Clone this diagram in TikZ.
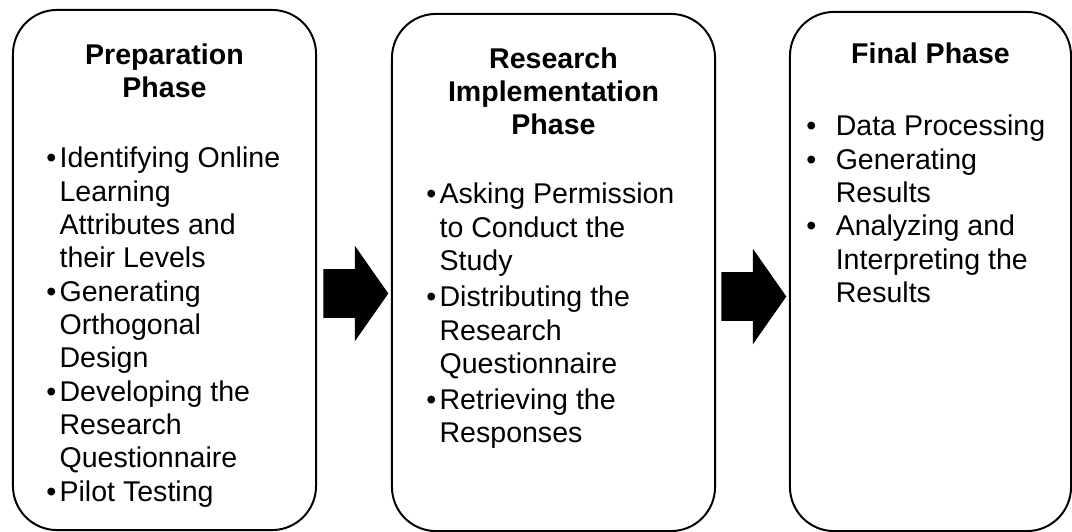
\documentclass[tikz,border=0pt]{standalone}
\usepackage{fontspec}
\setmainfont{Liberation Sans}
\usetikzlibrary{positioning, shapes.arrows}
\newcommand{\phasebullet}[1][9.5pt]{\makebox[#1][l]{\textbullet}}
\newcommand{\phaseindent}[1][9.5pt]{\hspace*{#1}}
\tikzset{
	phasebox/.style={draw, line width=1.4pt, rounded corners=1.1cm, inner sep=0pt},
	phasetitle/.style={font=\fontsize{20.3}{23.7}\selectfont\bfseries, align=center, inner sep=0pt},
	phaselist/.style={font=\fontsize{20.3}{23.7}\selectfont, align=left, inner sep=0pt},
	blockarrow/.style={single arrow, fill=black, inner sep=0pt, inner ysep=0.6cm,
		minimum height=1.625cm, single arrow head extend=0.5875cm,
		single arrow tip angle=110, single arrow head indent=0pt, anchor=tail}
}

\begin{document}
\begin{tikzpicture}[x=0.025cm, y=-0.025cm]
	\useasboundingbox (0,0) rectangle (1072,532);
	
	\node[phasebox, minimum width=7.575cm, minimum height=13cm] (prep) at (164.5,270) {};
	\node[phasebox, minimum width=8.075cm, minimum height=12.925cm] (impl) at (553.5,272.5) {};
	\node[phasebox, minimum width=7.025cm, minimum height=12.975cm] (final) at (930.5,271.5) {};
	
	\node[phasetitle, below=0.86cm of prep.north] (preptitle) {Preparation\\Phase};
	\node[phasetitle, below=0.86cm of impl.north] (impltitle) {Research\\Implementation\\Phase};
	\node[phasetitle, below=0.79cm of final.north] (finaltitle) {Final Phase};
	
	\node[phaselist, below right=3.45cm and 0.85cm of prep.north west] (preplist) {%
		\phasebullet Identifying Online\\
		\phaseindent Learning\\
		\phaseindent Attributes and\\
		\phaseindent their Levels\\
		\phasebullet Generating\\
		\phaseindent Orthogonal\\
		\phaseindent Design\\
		\phasebullet Developing the\\
		\phaseindent Research\\
		\phaseindent Questionnaire\\
		\phasebullet Pilot Testing};
	\node[phaselist, below right=4.25cm and 0.875cm of impl.north west] (impllist) {%
		\phasebullet Asking Permission\\
		\phaseindent to Conduct the\\
		\phaseindent Study\\[2pt]
		\phasebullet Distributing the\\
		\phaseindent Research\\
		\phaseindent Questionnaire\\[2pt]
		\phasebullet Retrieving the\\
		\phaseindent Responses};
	\node[phaselist, below right=2.6cm and 0.425cm of final.north west] (finallist) {%
		\phasebullet[21pt]Data Processing\\
		\phasebullet[21pt]Generating\\
		\phaseindent[21pt]Results\\
		\phasebullet[21pt]Analyzing and\\
		\phaseindent[21pt]Interpreting the\\
		\phaseindent[21pt]Results};
	
	\node[blockarrow] (preparrow) at (323,293.5) {};
	\node[blockarrow] (implarrow) at (721,296.5) {};
\end{tikzpicture}
\end{document}
